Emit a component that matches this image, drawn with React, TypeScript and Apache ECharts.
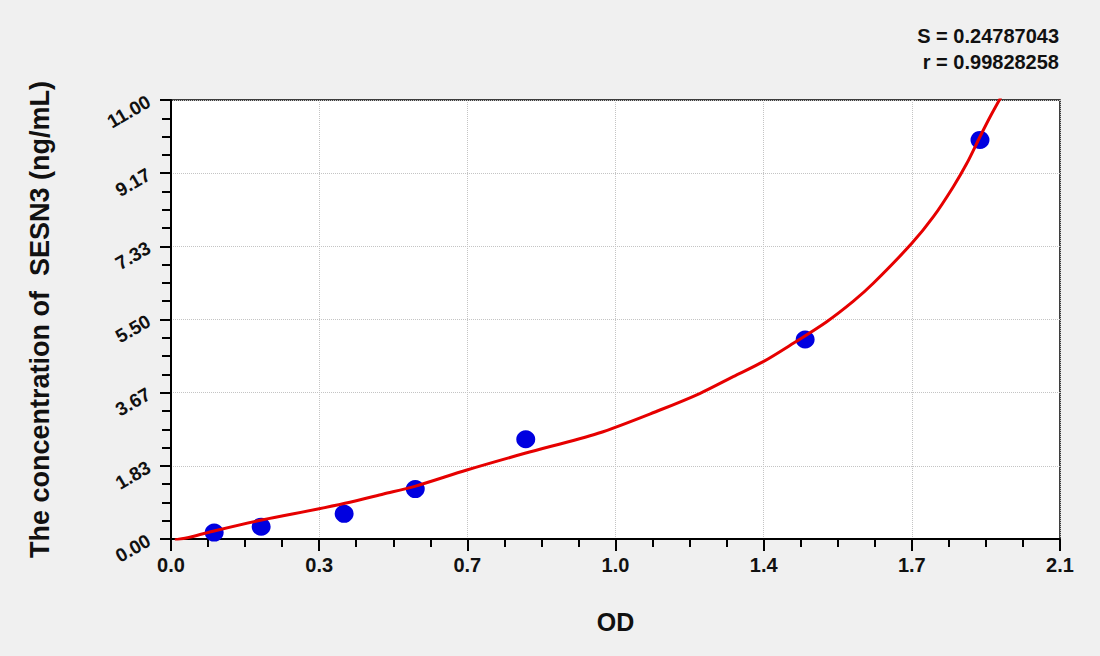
import React, { useEffect, useRef } from "react";
import * as echarts from "echarts";

const xTickLabels = ["0.0", "0.3", "0.7", "1.0", "1.4", "1.7", "2.1"];
const yTickLabels = ["0.00", "1.83", "3.67", "5.50", "7.33", "9.17", "11.00"];

const pointOD = [0.102, 0.213, 0.409, 0.577, 0.838, 1.498, 1.911];
const pointConc = [0.16, 0.31, 0.63, 1.25, 2.5, 5.0, 10.0];

const curveOD = [
  0.009, 0.049, 0.104, 0.214, 0.344, 0.411, 0.502, 0.576, 0.699, 0.836, 1.009,
  1.155, 1.25, 1.328, 1.399, 1.47, 1.549, 1.612, 1.659, 1.75, 1.801, 1.848,
  1.88, 1.911, 1.935, 1.961,
];
const curveConc = [
  -0.025, 0.058, 0.208, 0.476, 0.744, 0.895, 1.128, 1.32, 1.729, 2.147, 2.649,
  3.232, 3.651, 4.067, 4.443, 4.904, 5.445, 5.96, 6.407, 7.409, 8.076, 8.828,
  9.414, 10.08, 10.58, 11.08,
];

const statS = "S = 0.24787043";
const statR = "r = 0.99828258";

const FONT = "'Liberation Sans', Arial, Helvetica, sans-serif";

export default function App() {
  const ref = useRef<HTMLDivElement>(null);
  useEffect(() => {
    if (!ref.current) return;
    const chart = echarts.init(ref.current, undefined, { renderer: "svg" });
    const xStep = 0.35;
    const yStep = 11 / 6;
    chart.setOption({
      animation: false,
      backgroundColor: "#f0f0f0",
      textStyle: { fontFamily: FONT },
      grid: {
        left: 171,
        right: 40,
        top: 100,
        bottom: 117,
        show: true,
        backgroundColor: "#ffffff",
        borderColor: "#000000",
        borderWidth: 1.5,
      },
      xAxis: {
        type: "value",
        min: 0,
        max: 2.1,
        interval: xStep,
        name: "OD",
        nameLocation: "middle",
        nameGap: 70,
        nameTextStyle: { fontFamily: FONT, fontWeight: "bold", fontSize: 25, color: "#111" },
        axisLine: { show: true, onZero: false, lineStyle: { color: "#000", width: 2 } },
        axisTick: { show: true, inside: false, length: 12, lineStyle: { color: "#000", width: 2 } },
        minorTick: { show: true, splitNumber: 4, length: 8, lineStyle: { color: "#000", width: 2 } },
        axisLabel: {
          margin: 16,
          fontFamily: FONT,
          fontWeight: "bold",
          fontSize: 20,
          color: "#111",
          formatter: (v: number) => xTickLabels[Math.round(v / xStep)] ?? "",
        },
        splitLine: { show: true, lineStyle: { color: "#c4c4c4", type: "dotted", width: 1 } },
      },
      yAxis: {
        type: "value",
        min: 0,
        max: 11,
        interval: yStep,
        name: "The concentration of  SESN3 (ng/mL)",
        nameLocation: "middle",
        nameGap: 118,
        nameRotate: 90,
        nameTextStyle: { fontFamily: FONT, fontWeight: "bold", fontSize: 27, color: "#111" },
        axisLine: { show: true, onZero: false, lineStyle: { color: "#000", width: 2 } },
        axisTick: { show: true, inside: false, length: 11, lineStyle: { color: "#000", width: 2 } },
        minorTick: { show: true, splitNumber: 4, length: 9, lineStyle: { color: "#000", width: 2 } },
        axisLabel: {
          margin: 22,
          rotate: 30,
          fontFamily: FONT,
          fontWeight: "bold",
          fontSize: 19,
          color: "#111",
          formatter: (v: number) => yTickLabels[Math.round(v / yStep)] ?? "",
        },
        splitLine: { show: true, lineStyle: { color: "#c4c4c4", type: "dotted", width: 1 } },
      },
      graphic: [
        {
          type: "text",
          right: 41,
          top: 23,
          style: {
            text: statS + "\n" + statR,
            font: "bold 20px " + FONT,
            fill: "#111",
            textAlign: "right",
            lineHeight: 26,
          },
        },
      ],
      series: [
        {
          type: "line",
          data: curveOD.map((x, i) => [x, curveConc[i]]),
          showSymbol: false,
          smooth: 0.3,
          lineStyle: { color: "#e60000", width: 3 },
          clip: true,
          z: 3,
        },
        {
          type: "scatter",
          data: pointOD.map((x, i) => [x, pointConc[i]]),
          symbol: "circle",
          symbolSize: [19, 18],
          itemStyle: { color: "#0000e0", opacity: 1 },
          z: 2,
        },
      ],
    });
    return () => chart.dispose();
  }, []);
  return (
    <div
      ref={ref}
      style={{ position: "absolute", left: 0, top: 0, width: 1100, height: 656 }}
    />
  );
}
